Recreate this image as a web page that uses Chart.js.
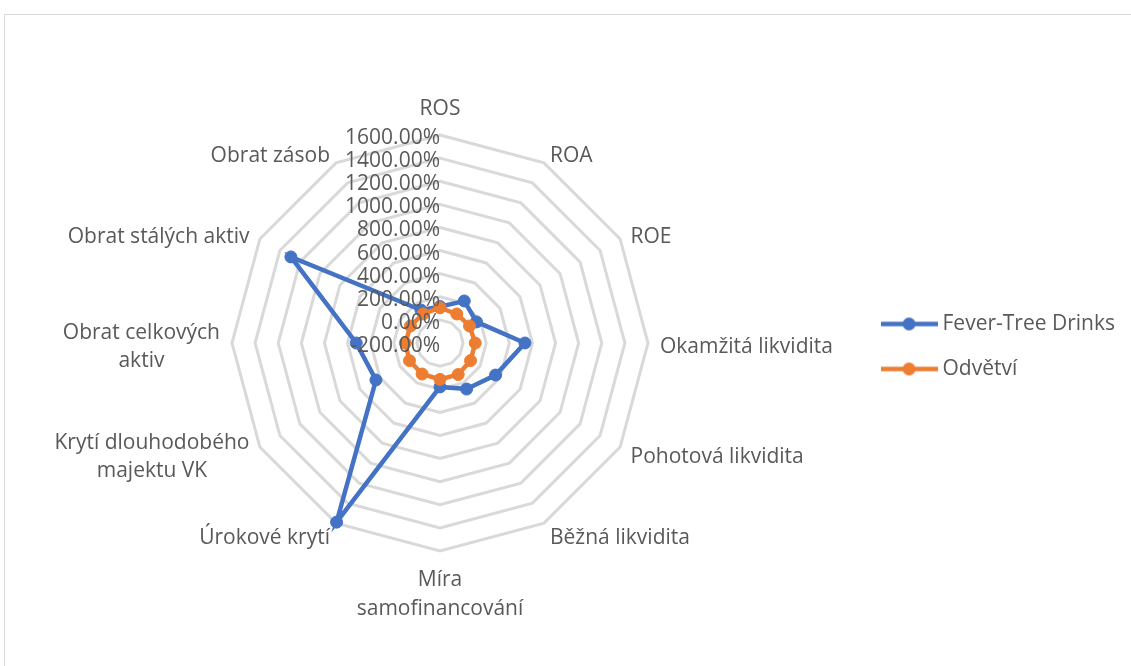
<!DOCTYPE html>
<html>
<head>
<meta charset="utf-8">
<script src="https://cdn.jsdelivr.net/npm/chart.js@4/dist/chart.umd.min.js"></script>
<style>
  html, body { margin: 0; padding: 0; background: #fff; overflow: hidden; }
  #wrap { position: relative; width: 1131px; height: 666px; }
  #frame { position: absolute; left: 4px; top: 14px; width: 1200px; height: 700px; border: 1px solid #d9d9d9; }
  #chart { position: absolute; left: 0; top: 0; }
</style>
</head>
<body>
<div id="wrap">
  <div id="frame"></div>
  <canvas id="chart" width="1131" height="666"></canvas>
</div>
<script>
// categories (axes of the radar)
const categories = [
  'ROS', 'ROA', 'ROE', 'Okamžitá likvidita', 'Pohotová likvidita', 'Běžná likvidita',
  ['Míra', 'samofinancování'], 'Úrokové krytí', ['Krytí dlouhodobého', 'majektu VK'],
  ['Obrat celkových', 'aktiv'], 'Obrat stálých aktiv', 'Obrat zásob'
];

// values in %
const feverTree = [115, 220, 165, 535, 355, 260, 180, 1590, 440, 525, 1290, 130];
const odvetvi = [105, 90, 95, 105, 105, 115, 115, 110, 105, 100, 95, 90];

const tickLabels = ['-200.00%', '0.00%', '200.00%', '400.00%', '600.00%', '800.00%',
  '1000.00%', '1200.00%', '1400.00%', '1600.00%'];

const BLUE = '#4472C4';
const ORANGE = '#ED7D31';
const TEXT = '#595959';
const FONT = '"Open Sans", sans-serif';

// where Excel put the plot
const CX = 440, CY = 343, R = 208, LABEL_GAP = 12;

// small line + dot image for the legend
function legendMark(color) {
  const c = document.createElement('canvas');
  c.width = 57; c.height = 15;
  const g = c.getContext('2d');
  g.strokeStyle = color; g.lineWidth = 4.5;
  g.beginPath(); g.moveTo(0, 7.5); g.lineTo(57, 7.5); g.stroke();
  g.fillStyle = color;
  g.beginPath(); g.arc(28.5, 7.5, 6.5, 0, Math.PI * 2); g.fill();
  return c;
}

// pin the radar to the reference position and lay out the category labels
function placeScale(scale) {
  const items = scale._pointLabelItems || [];
  items.forEach((it, i) => {
    const w = it.right - it.left, h = it.bottom - it.top;
    const deg = i * 360 / categories.length;
    const a = deg * Math.PI / 180;
    const px = CX + (R + LABEL_GAP) * Math.sin(a);
    const py = CY - (R + LABEL_GAP) * Math.cos(a);
    const left = (deg === 0 || deg === 180) ? px - w / 2 : (deg < 180 ? px : px - w);
    const top = deg === 0 ? py - h : (deg === 180 ? py + 3 : py - h / 2 + 4);
    Object.assign(it, {x: left + w / 2, y: top, textAlign: 'center', left, top, right: left + w, bottom: top + h});
  });
  scale.xCenter = CX;
  scale.yCenter = CY;
  scale.drawingArea = R;
}

// value labels, right aligned on the vertical axis like Excel
const tickPlugin = {
  id: 'tickText',
  afterDatasetsDraw(chart) {
    const s = chart.scales.r;
    const ctx = chart.ctx;
    ctx.save();
    ctx.font = '21px ' + FONT;
    ctx.fillStyle = TEXT;
    ctx.textAlign = 'right';
    ctx.textBaseline = 'middle';
    s.ticks.forEach((t, i) => {
      const d = s.getDistanceFromCenterForValue(t.value);
      ctx.fillText(t.label, s.xCenter, s.yCenter - d + 3);
    });
    ctx.restore();
  }
};

const ctx = document.getElementById('chart').getContext('2d');
const chart = new Chart(ctx, {
  type: 'radar',
  data: {
    labels: categories,
    datasets: [{
      label: 'Fever-Tree Drinks',
      data: feverTree,
      borderColor: BLUE,
      backgroundColor: BLUE,
      pointBackgroundColor: BLUE,
      borderWidth: 4.5,
      pointRadius: 6,
      pointBorderWidth: 1,
      fill: false,
      order: 2
    }, {
      label: 'Odvětví',
      data: odvetvi,
      borderColor: ORANGE,
      backgroundColor: ORANGE,
      pointBackgroundColor: ORANGE,
      borderWidth: 4.5,
      pointRadius: 6,
      pointBorderWidth: 1,
      fill: false,
      order: 1
    }]
  },
  options: {
    responsive: false,
    animation: false,
    layout: { padding: { top: 27, right: 6 } },
    elements: { line: { tension: 0 } },
    scales: {
      r: {
        min: -200,
        max: 1600,
        ticks: {
          stepSize: 200,
          display: false,
          callback: (v, i) => tickLabels[i]
        },
        grid: { color: '#d9d9d9', lineWidth: 3, circular: false },
        angleLines: { display: false },
        pointLabels: {
          color: TEXT,
          padding: LABEL_GAP,
          font: { family: FONT, size: 21, lineHeight: 1.35 }
        },
        afterFit: placeScale
      }
    },
    plugins: {
      tooltip: { enabled: false },
      legend: {
        position: 'right',
        labels: {
          color: TEXT,
          font: { family: FONT, size: 21 },
          usePointStyle: true,
          pointStyleWidth: 46,
          padding: 24,
          generateLabels(c) {
            const items = Chart.defaults.plugins.legend.labels.generateLabels(c);
            items.forEach(it => {
              it.pointStyle = legendMark(c.data.datasets[it.datasetIndex].borderColor);
            });
            return items;
          },
          sort: (a, b) => a.datasetIndex - b.datasetIndex
        }
      }
    }
  },
  plugins: [tickPlugin]
});
</script>
</body>
</html>
